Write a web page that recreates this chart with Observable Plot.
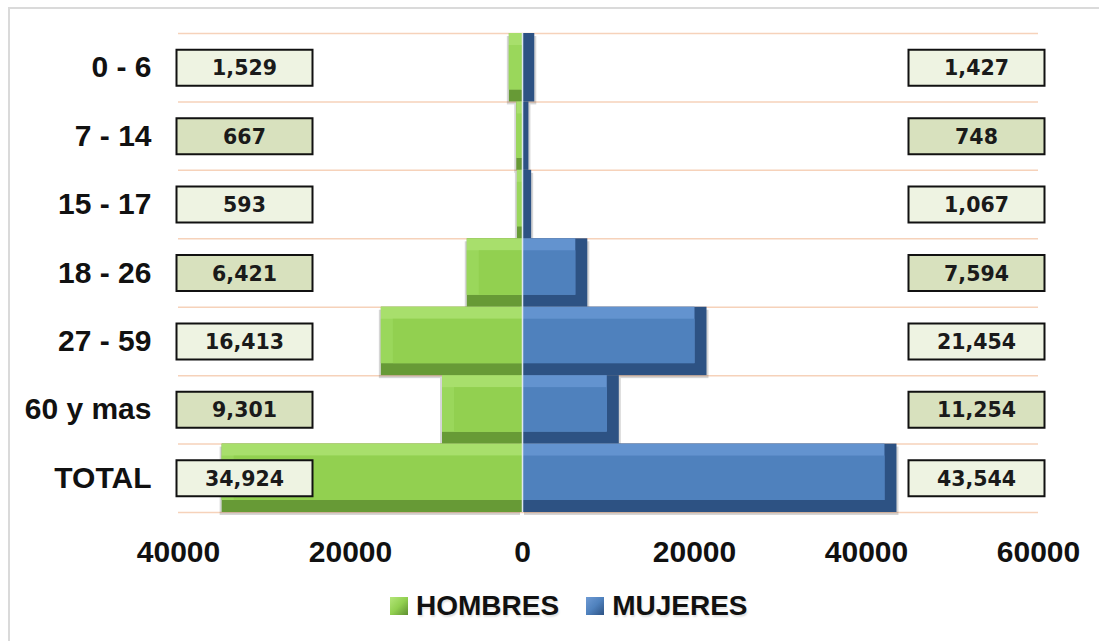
<!DOCTYPE html>
<html>
<head>
<meta charset="utf-8">
<script src="https://cdn.jsdelivr.net/npm/d3@7"></script>
<script src="https://cdn.jsdelivr.net/npm/@observablehq/plot@0.6"></script>
<style>
  html, body { margin: 0; padding: 0; background: #fff; overflow: hidden; }
  #wrap { position: relative; width: 1099px; height: 641px; overflow: hidden; }
  #border { position: absolute; left: 8px; top: 7px; width: 1200px; height: 700px; border: 2px solid #dadada; box-sizing: border-box; }
  #chart { position: absolute; left: 0; top: 0; }
  #chart svg [aria-label^="x-axis"] text { font-family: "Liberation Sans", Arial, sans-serif; font-weight: bold; font-size: 30px; fill: #111; }
  #chart svg [aria-label^="y-axis"] text { font-family: "Liberation Sans", Arial, sans-serif; font-weight: bold; font-size: 30px; fill: #111; }
  #legend { position: absolute; left: 390px; top: 591px; height: 30px; display: flex; align-items: center; font-family: "Liberation Sans", Arial, sans-serif; font-weight: bold; font-size: 28px; color: #111; text-shadow: 1px 2px 2px rgba(0,0,0,0.12); }
  .sw { width: 18px; height: 18px; margin-right: 8px; display: inline-block; }
  .item { display: flex; align-items: center; margin-right: 27px; }
</style>
</head>
<body>
<div id="wrap">
  <div id="border"></div>
  <div id="chart"></div>
  <div id="legend"></div>
</div>
<script>
const categorias = ["0 - 6", "7 - 14", "15 - 17", "18 - 26", "27 - 59", "60 y mas", "TOTAL"];
const hombres = [1529, 667, 593, 6421, 16413, 9301, 34924];
const mujeres = [1427, 748, 1067, 7594, 21454, 11254, 43544];
const xTicks = [-40000, -20000, 0, 20000, 40000, 60000];
const series = ["HOMBRES", "MUJERES"];

const rows = categorias.map((c, i) => ({cat: c, i, h: hombres[i], m: mujeres[i]}));
const bounds = d3.range(categorias.length + 1).map(k => k - 0.5);

const B = 12; // bevel size in px
const green = {dark: "#679a36", light: "#a8df6c", side: "#9ad75b", main: "#92d050"};
const blue = {dark: "#2d5283", light: "#6393cf", main: "#4f81bd"};
const fmt = d3.format(",");

const boxSymbol = { draw(ctx) { ctx.rect(-68, -18, 136, 36); } };
const boxFill = d => d.i % 2 ? "#d8e1be" : "#eef3e2";

const y1 = d => d.i - 0.5, y2 = d => d.i + 0.5;
const xh = d => -d.h, xm = d => d.m;

const chart = Plot.plot({
  width: 1099,
  height: 580,
  marginTop: 33,
  marginBottom: 68,
  marginLeft: 178,
  marginRight: 61,
  style: {background: "transparent", overflow: "visible"},
  x: {domain: [-40000, 60000], ticks: xTicks, tickFormat: d => String(Math.abs(d)), tickSize: 0, tickPadding: 28, label: null},
  y: {domain: [-0.5, 6.5], reverse: true, ticks: rows.map(d => d.i), tickFormat: i => categorias[i], tickSize: 0, tickPadding: 27, label: null},
  marks: [
    Plot.ruleY(bounds, {stroke: "#f6d2ba", strokeWidth: 1.5}),
    // shadows
    Plot.rect(rows, {x1: 0, x2: xh, y1, y2, fill: "#000", fillOpacity: 0.16, dx: -2, dy: 3}),
    Plot.rect(rows, {x1: 0, x2: xm, y1, y2, fill: "#000", fillOpacity: 0.16, dx: 2, dy: 3}),
    // hombres (bevel layers)
    Plot.rect(rows, {x1: 0, x2: xh, y1, y2, fill: green.dark}),
    Plot.rect(rows, {x1: 0, x2: xh, y1, y2, fill: green.light, insetBottom: B}),
    Plot.rect(rows, {x1: 0, x2: xh, y1, y2, fill: green.side, insetBottom: B, insetTop: B}),
    Plot.rect(rows, {x1: 0, x2: xh, y1, y2, fill: green.main, insetBottom: B, insetTop: B, insetLeft: B}),
    // mujeres (bevel layers)
    Plot.rect(rows, {x1: 0, x2: xm, y1, y2, fill: blue.dark}),
    Plot.rect(rows, {x1: 0, x2: xm, y1, y2, fill: blue.light, insetBottom: B, insetRight: B}),
    Plot.rect(rows, {x1: 0, x2: xm, y1, y2, fill: blue.main, insetBottom: B, insetTop: B, insetRight: B}),
    Plot.ruleX([0], {stroke: "#dde7f1", strokeWidth: 1.5}),
    // label boxes
    Plot.dot(rows, {y: "i", frameAnchor: "left", dx: 66, symbol: boxSymbol, fill: boxFill, stroke: "#111", strokeWidth: 2, r: 10}),
    Plot.dot(rows, {y: "i", frameAnchor: "right", dx: -62, symbol: boxSymbol, fill: boxFill, stroke: "#111", strokeWidth: 2, r: 10}),
    Plot.text(rows, {y: "i", frameAnchor: "left", dx: 66, textAnchor: "middle", text: d => fmt(d.h), fontFamily: "DejaVu Sans", fontWeight: "bold", fontSize: 20.5, fill: "#1a1a1a", dy: 1}),
    Plot.text(rows, {y: "i", frameAnchor: "right", dx: -62, textAnchor: "middle", text: d => fmt(d.m), fontFamily: "DejaVu Sans", fontWeight: "bold", fontSize: 20.5, fill: "#1a1a1a", dy: 1})
  ]
});
document.getElementById("chart").appendChild(chart);

const legend = document.getElementById("legend");
const swatches = [
  "linear-gradient(135deg, #b4e67a 0%, #92d050 50%, #5e8f30 100%)",
  "linear-gradient(135deg, #6f9bd4 0%, #4f81bd 50%, #2d5283 100%)"
];
series.forEach((s, k) => {
  const item = document.createElement("div");
  item.className = "item";
  const sw = document.createElement("span");
  sw.className = "sw";
  sw.style.background = swatches[k];
  const t = document.createElement("span");
  t.textContent = s;
  item.appendChild(sw);
  item.appendChild(t);
  legend.appendChild(item);
});
</script>
</body>
</html>
